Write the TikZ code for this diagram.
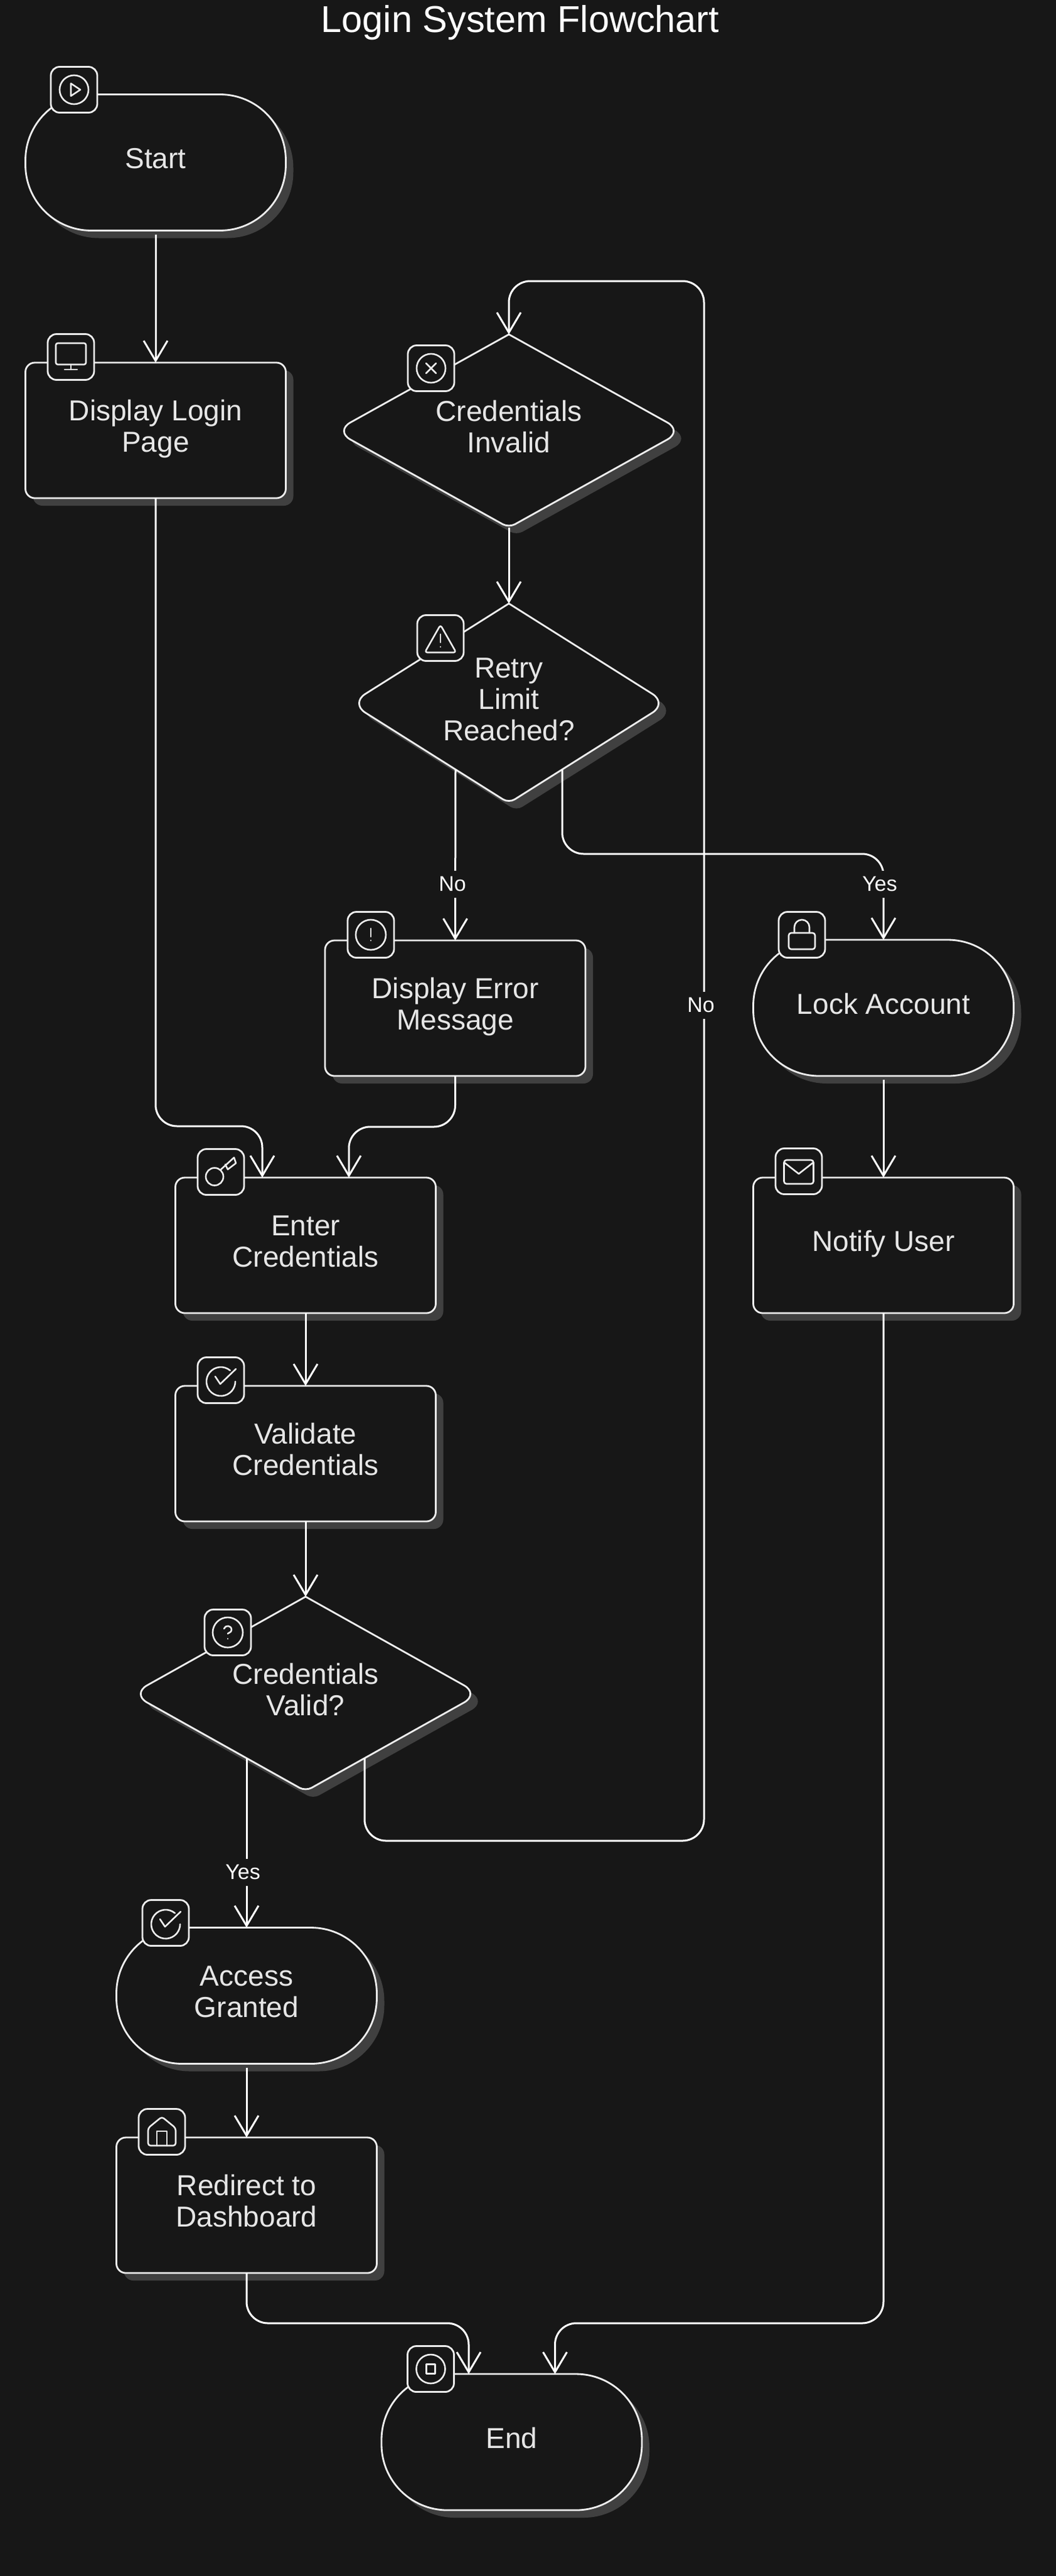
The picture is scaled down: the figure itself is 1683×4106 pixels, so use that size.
\documentclass[tikz,border=0pt]{standalone}
\usepackage{fontspec}
\setmainfont{Liberation Sans}
\usetikzlibrary{arrows.meta, shapes.geometric, shadows, backgrounds}

\definecolor{boardbg}{HTML}{171717}
\definecolor{boardshadow}{HTML}{404040}
\definecolor{boardline}{HTML}{EDEDED}
\definecolor{boardtext}{HTML}{E6E6E6}

\newcommand{\nodetxt}[1]{\raisebox{-6pt}[0pt][0pt]{\begin{tabular}{@{}c@{}}#1\end{tabular}}}
% top tip stays sharp, the other three are rounded
\newcommand{\decisionoutline}[1]{
    \begin{scope}[on background layer]
        \draw[outlineshape] (#1.north) [rounded corners = 28pt] -- (#1.east) [rounded corners = 11pt] -- (#1.south) [rounded corners = 28pt] -- (#1.west) [sharp corners] -- (#1.north) -- cycle;
    \end{scope}
}

\tikzset{
    outlineshape/.style = {draw = boardline, line width = 2.8pt, fill = boardbg,
        drop shadow = {shadow xshift = 12pt, shadow yshift = -12pt, fill = boardshadow, opacity = 1}},
    flowshape/.style = {outlineshape, text = boardtext, inner sep = 0pt, outer sep = 0pt, font = \fontsize{46}{50}\selectfont},
    terminalbox/.style = {flowshape, rectangle, rounded corners = 105pt, minimum width = 415pt, minimum height = 217pt},
    processbox/.style = {flowshape, rectangle, rounded corners = 15pt, minimum width = 415pt, minimum height = 216pt},
    decisionbox/.style = {diamond, text = boardtext, inner sep = 0pt, outer sep = 0pt, font = \fontsize{46}{50}\selectfont},
    iconbox/.style = {draw = boardline, line width = 2.8pt, fill = boardbg, rectangle, rounded corners = 14pt, inner sep = 0pt, outer sep = 0pt,
        minimum width = 74pt, minimum height = 73pt},
    glyph/.style = {draw = boardline, line width = 2.6pt, line cap = round, line join = round},
    flowline/.style = {draw = white, line width = 3pt, rounded corners = 34pt, -{Straight Barb[length = 32pt, width = 38pt]}},
    edgetext/.style = {fill = boardbg, text = white, inner xsep = 3pt, inner ysep = 0pt, minimum height = 43pt, font = \fontsize{34}{40}\selectfont},
    glyphcheck/.pic = {
        \draw[glyph] (14.8,-15.6) arc[start angle = -50, end angle = -360, radius = 23];
        \draw[glyph] (-9,-6) -- (-1,6) -- (24,-18);
    }
}

\begin{document}
\begin{tikzpicture}[x = 1pt, y = -1pt]
    \begin{scope}[on background layer]
        \fill[boardbg] (0,0) rectangle (1683,4106);
    \end{scope}
    \useasboundingbox (0,0) rectangle (1683,4106);

    \node[anchor = base, text = white, font = \fontsize{59.5}{64}\selectfont] (title) at (829,51.5) {Login System Flowchart};

    % left column and centre
    \node[terminalbox] (start) at (248,259) {\nodetxt{Start}};
    \node[processbox] (login) at (248,686) {\nodetxt{Display Login\\Page}};
    \node[processbox] (enter) at (487,1985) {\nodetxt{Enter\\Credentials}};
    \node[processbox] (validate) at (487,2317) {\nodetxt{Validate\\Credentials}};
    \node[decisionbox, minimum width = 554pt, minimum height = 310pt] (valid) at (487,2700) {\nodetxt{Credentials\\Valid?}};
    \node[terminalbox] (granted) at (393,3181) {\nodetxt{Access\\Granted}};
    \node[processbox] (redirect) at (393,3515) {\nodetxt{Redirect to\\Dashboard}};
    \node[terminalbox] (finish) at (815.5,3892.5) {\nodetxt{End}};
    % failure branch
    \node[decisionbox, minimum width = 554pt, minimum height = 308pt] (invalid) at (811,687) {\nodetxt{Credentials\\Invalid}};
    \node[decisionbox, minimum width = 505pt, minimum height = 318pt] (retry) at (811,1121) {\nodetxt{Retry\\Limit\\Reached?}};
    \node[processbox] (error) at (725.5,1607) {\nodetxt{Display Error\\Message}};
    \node[terminalbox] (lock) at (1408,1606.5) {\nodetxt{Lock Account}};
    \node[processbox] (notify) at (1408,1985) {\nodetxt{Notify User}};

    \decisionoutline{valid}
    \decisionoutline{invalid}
    \decisionoutline{retry}

    \node[iconbox] (iconstart) at (118,143) {};
    \node[iconbox] (iconlogin) at (113,569) {};
    \node[iconbox] (iconenter) at (352,1868) {};
    \node[iconbox] (iconvalidate) at (352,2200) {};
    \node[iconbox] (iconvalid) at (363,2602) {};
    \node[iconbox] (icongranted) at (264,3065) {};
    \node[iconbox] (iconredirect) at (258,3398) {};
    \node[iconbox] (iconfinish) at (686.5,3776) {};
    \node[iconbox] (iconinvalid) at (687,587) {};
    \node[iconbox] (iconretry) at (702,1017) {};
    \node[iconbox] (iconerror) at (591,1490) {};
    \node[iconbox] (iconlock) at (1278,1490) {};
    \node[iconbox] (iconnotify) at (1273,1867) {};

    % icon glyphs
    \begin{scope}[shift = {(iconstart)}]
        \draw[glyph] (0,0) circle[radius = 23];
        \draw[glyph] (-5,-10) -- (10,0) -- (-5,10) -- cycle;
    \end{scope}
    \begin{scope}[shift = {(iconlogin)}]
        \draw[glyph, rounded corners = 3pt] (-24,-22) rectangle (24,12);
        \draw[glyph] (0,12) -- (0,20);
        \draw[glyph] (-10,20) -- (10,20);
    \end{scope}
    \begin{scope}[shift = {(iconenter)}]
        \draw[glyph] (-10,7.5) circle[radius = 14];
        \draw[glyph] (-1,-3) -- (21,-23) -- (24,-14) -- (11,-4) -- (7,-12);
    \end{scope}
    \pic[shift = {(iconvalidate)}] at (0,3) {glyphcheck};
    \begin{scope}[shift = {(iconvalid)}]
        \draw[glyph] (0,0) circle[radius = 24];
        \draw[glyph] (-6,-6) .. controls (-4,-12) and (6,-12) .. (6,-4) .. controls (6,0) and (0,1) .. (0,2);
        \draw[glyph] (0,10) -- (0,10.1);
    \end{scope}
    \pic[shift = {(icongranted)}] at (0,2) {glyphcheck};
    \begin{scope}[shift = {(iconredirect)}]
        \draw[glyph, rounded corners = 4pt] (-22,-6) -- (0,-24) -- (22,-6) -- (22,22) -- (-22,22) -- cycle;
        \draw[glyph] (-8,22) -- (-8,-1) -- (8,-1) -- (8,22);
    \end{scope}
    \begin{scope}[shift = {(iconfinish)}]
        \draw[glyph] (0,0) circle[radius = 23];
        \draw[glyph] (-7,-7.5) rectangle (7,7.5);
    \end{scope}
    \begin{scope}[shift = {(iconinvalid)}]
        \draw[glyph] (0,0) circle[radius = 23];
        \draw[glyph] (-8,-8) -- (8,8);
        \draw[glyph] (-8,8) -- (8,-8);
    \end{scope}
    \begin{scope}[shift = {(iconretry)}]
        \draw[glyph, rounded corners = 4pt] (0,-21) -- (25,23) -- (-25,23) -- cycle;
        \draw[glyph] (0,-6) -- (0,7);
        \draw[glyph] (0,14) -- (0,14.1);
    \end{scope}
    \begin{scope}[shift = {(iconerror)}]
        \draw[glyph] (0,0) circle[radius = 24];
        \draw[glyph] (0,-10) -- (0,3);
        \draw[glyph] (0,9) -- (0,9.1);
    \end{scope}
    \begin{scope}[shift = {(iconlock)}]
        \draw[glyph, rounded corners = 4pt] (-21,-3) rectangle (21,23);
        \draw[glyph] (-12,-3) -- (-12,-12) arc[start angle = 180, end angle = 360, radius = 12] -- (12,-3);
    \end{scope}
    \begin{scope}[shift = {(iconnotify)}]
        \draw[glyph, rounded corners = 4pt] (-23.5,-18) rectangle (23.5,20);
        \draw[glyph] (-23,-14) -- (0,4) -- (23,-14);
    \end{scope}

    % ports on the shapes
    \coordinate (enterleft) at (418,1877);
    \coordinate (enterright) at (556,1877);
    \coordinate (finishleft) at (747,3784);
    \coordinate (finishright) at (884.5,3784);
    \coordinate (retryno) at (726,1226);
    \coordinate (retryyes) at (896,1226);
    \coordinate (validyes) at (393,2803);
    \coordinate (validno) at (581,2803);

    \draw[flowline, shorten < = 6pt] (start.south) -- (login.north);
    \draw[flowline] (login.south) |- (418,1795) -- (enterleft);
    \draw[flowline] (enter.south) -- (validate.north);
    \draw[flowline] (validate.south) -- (valid.north);
    \draw[flowline] (validyes) -- (granted.north);
    \draw[flowline, shorten < = 6pt] (granted.south) -- (redirect.north);
    \draw[flowline] (redirect.south) |- (747,3703) -- (finishleft);
    \draw[flowline] (invalid.south) -- (retry.north);
    \draw[flowline] (retryno) -- (error.north);
    \draw[flowline] (retryyes) |- (1408,1361) -- (lock.north);
    \draw[flowline] (error.south) |- (556,1796) -- (enterright);
    \draw[flowline, shorten < = 6pt] (lock.south) -- (notify.north);
    \draw[flowline] (notify.south) |- (884.5,3703) -- (finishright);
    \draw[flowline] (validno) |- (1122,2934) |- (811,448) -- (invalid.north);

    \node[edgetext] (labelretryno) at (721,1409) {No};
    \node[edgetext] (labelretryyes) at (1402,1409) {Yes};
    \node[edgetext] (labelvalidno) at (1117,1602) {No};
    \node[edgetext] (labelvalidyes) at (387,2984) {Yes};
\end{tikzpicture}
\end{document}
